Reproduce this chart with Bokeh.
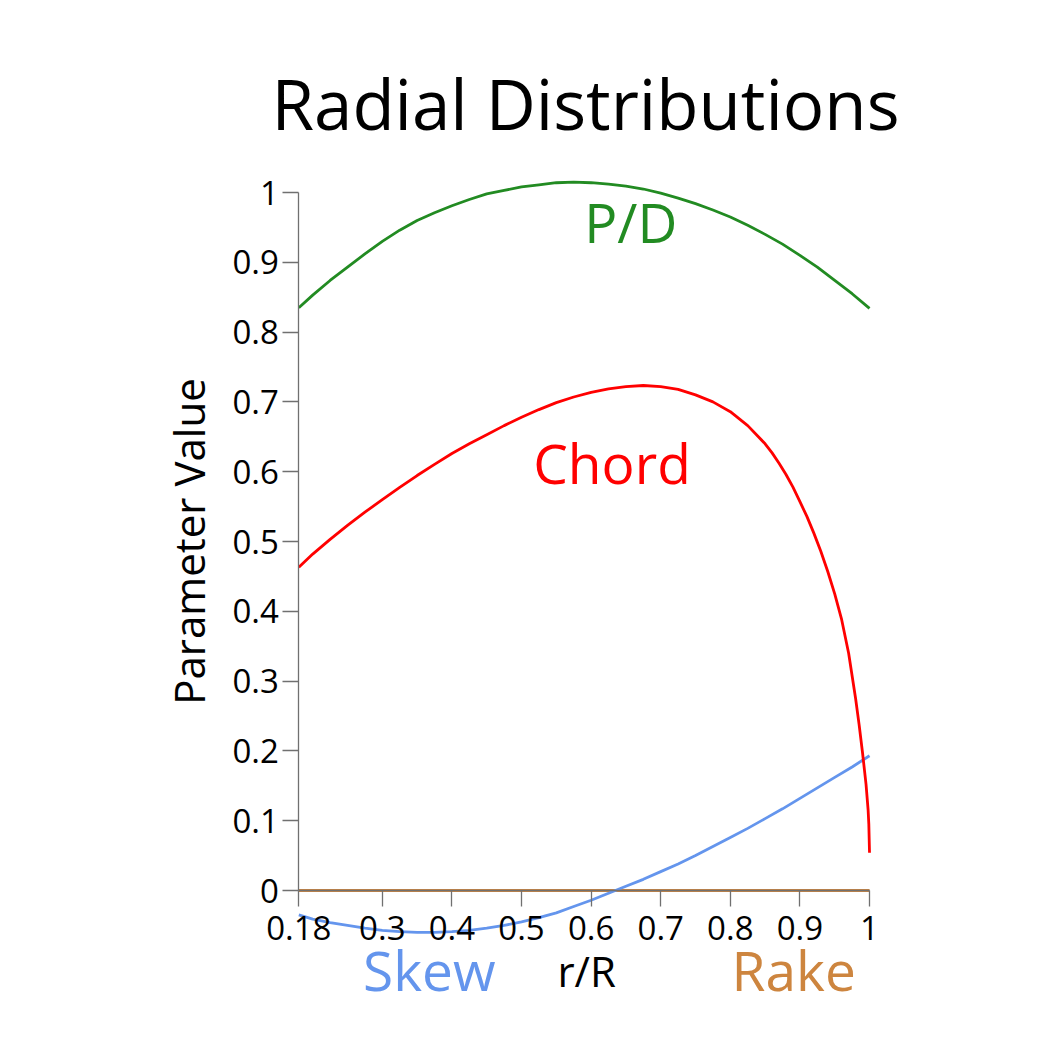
from bokeh.plotting import figure
from bokeh.models import Range1d, FixedTicker, NumeralTickFormatter, Label
from bokeh.embed import file_html
from bokeh.resources import INLINE

# ---- data ----
r_pd = [0.18, 0.2, 0.225, 0.25, 0.275, 0.3, 0.325, 0.35, 0.375, 0.4, 0.425, 0.45, 0.475, 0.5,
        0.525, 0.55, 0.575, 0.6, 0.625, 0.65, 0.675, 0.7, 0.725, 0.75, 0.775, 0.8, 0.825,
        0.85, 0.875, 0.9, 0.925, 0.95, 0.975, 1.0]
pitch = [0.835, 0.853, 0.874, 0.893, 0.912, 0.930, 0.946, 0.960, 0.971, 0.981, 0.990, 0.998, 1.003, 1.008,
         1.011, 1.014, 1.015, 1.014, 1.012, 1.009, 1.005, 0.999, 0.992, 0.984, 0.975, 0.965, 0.953,
         0.940, 0.926, 0.910, 0.893, 0.874, 0.855, 0.834]

r_chord = [0.18, 0.2, 0.225, 0.25, 0.275, 0.3, 0.325, 0.35, 0.375, 0.4, 0.425, 0.45, 0.475, 0.5,
           0.525, 0.55, 0.575, 0.6, 0.625, 0.65, 0.675, 0.7, 0.725, 0.75, 0.775, 0.8, 0.825,
           0.85, 0.86, 0.87, 0.88, 0.89, 0.9, 0.91, 0.92, 0.93, 0.94, 0.95, 0.96, 0.97, 0.98,
           0.985, 0.99, 0.995, 0.998, 0.999, 1.0]
chord = [0.463, 0.482, 0.503, 0.523, 0.542, 0.560, 0.5775, 0.5945, 0.6105, 0.626, 0.640, 0.653, 0.666, 0.678,
         0.689, 0.699, 0.707, 0.7135, 0.7185, 0.722, 0.7235, 0.722, 0.718, 0.710, 0.700, 0.686, 0.666,
         0.640, 0.627, 0.612, 0.596, 0.578, 0.557, 0.536, 0.512, 0.486, 0.457, 0.425, 0.388, 0.340, 0.275,
         0.238, 0.197, 0.152, 0.115, 0.095, 0.054]

r_skew = [0.18, 0.2, 0.225, 0.25, 0.275, 0.3, 0.325, 0.35, 0.375, 0.4, 0.425, 0.45, 0.475, 0.5,
          0.525, 0.55, 0.575, 0.6, 0.625, 0.65, 0.675, 0.7, 0.725, 0.75, 0.775, 0.8, 0.825,
          0.85, 0.875, 0.9, 0.925, 0.95, 0.975, 1.0]
skew = [-0.035, -0.041, -0.046, -0.050, -0.054, -0.057, -0.059, -0.060, -0.060, -0.059, -0.057, -0.054, -0.050, -0.045,
        -0.039, -0.032, -0.023, -0.014, -0.004, 0.006, 0.016, 0.027, 0.038, 0.050, 0.063, 0.076, 0.089,
        0.103, 0.117, 0.132, 0.147, 0.162, 0.177, 0.193]

r_rake = [0.18, 1.0]
rake = [0.0, 0.0]

x_ticks = [0.18, 0.3, 0.4, 0.5, 0.6, 0.7, 0.8, 0.9, 1.0]
y_ticks = [0, 0.1, 0.2, 0.3, 0.4, 0.5, 0.6, 0.7, 0.8, 0.9, 1.0]

series_labels = ["P/D", "Chord", "Skew", "Rake"]
label_x = [0.657, 0.630, 0.3675, 0.891]
label_y = [0.959, 0.613, -0.1133, -0.1133]
colors = ["#228B22", "#FF0000", "#6495ED", "#CD853F"]

x_title = "r/R"
x_title_pos = (0.5936, -0.1147)

FONT = "Open Sans"

# ---- layout: pixel geometry of the frame (page coordinates) ----
PX, PY = 696.0, 698.0          # pixels per data unit
X_ORIGIN_PX, Y_ORIGIN_PX = 298.3, 890.0   # page pixel of (0.18, 0)
F_LEFT, F_RIGHT, F_TOP, F_BOTTOM = 165, 1005, 164, 1010

x_range = Range1d(0.18 - (X_ORIGIN_PX - F_LEFT) / PX, 0.18 + (F_RIGHT - X_ORIGIN_PX) / PX)
y_range = Range1d(-(F_BOTTOM - Y_ORIGIN_PX) / PY, (Y_ORIGIN_PX - F_TOP) / PY)

p = figure(
    x_range=x_range, y_range=y_range,
    frame_width=F_RIGHT - F_LEFT, frame_height=F_BOTTOM - F_TOP,
    min_border_left=F_LEFT, min_border_top=F_TOP, min_border_right=0, min_border_bottom=0,
    output_backend="svg", toolbar_location=None,
    title="Radial Distributions",
)
p.background_fill_color = "white"
p.border_fill_color = "white"
p.outline_line_color = None
p.grid.visible = False

p.title.text_font = FONT
p.title.text_font_size = "69px"
p.title.text_font_style = "normal"
p.title.align = "center"
p.title.text_color = "black"
p.title.standoff = 29

# axes crossing at (0.18, 0)
for ax in (p.xaxis[0], p.yaxis[0]):
    ax.axis_line_color = "#707070"
    ax.axis_line_width = 1.3
    ax.major_tick_line_color = "#707070"
    ax.major_tick_line_width = 1.3
    ax.major_tick_out = 16
    ax.major_tick_in = 0
    ax.minor_tick_line_color = None
    ax.major_label_text_font = FONT
    ax.major_label_text_font_size = "33px"
    ax.major_label_text_color = "black"
    ax.axis_label_text_font = FONT
    ax.axis_label_text_font_size = "42px"
    ax.axis_label_text_font_style = "normal"
    ax.axis_label_text_color = "black"
    ax.formatter = NumeralTickFormatter(format="0.[00]")

xa = p.xaxis[0]
xa.fixed_location = 0
xa.bounds = (0.18, 1.0)
xa.ticker = FixedTicker(ticks=x_ticks)
xa.major_label_standoff = 9
xa.major_label_text_line_height = 1.0

ya = p.yaxis[0]
ya.fixed_location = 0.18
ya.bounds = (0, 1.0)
ya.ticker = FixedTicker(ticks=y_ticks)
ya.axis_label = "Parameter Value"
ya.major_label_standoff = 4
ya.axis_label_standoff = 12

# curves
p.line(r_rake, rake, line_color=colors[3], line_width=3)
p.line(r_skew, skew, line_color=colors[2], line_width=2.8)
p.line(r_pd, pitch, line_color=colors[0], line_width=2.8)
p.line(r_chord, chord, line_color=colors[1], line_width=2.8)

# x-axis title (drawn as a label inside the frame, under the fixed axis)
p.add_layout(Label(x=x_title_pos[0], y=x_title_pos[1], text=x_title, text_color="black",
                   text_font=FONT, text_font_size="42px", text_align="center",
                   text_baseline="alphabetic"))

for t, lx, ly, c in zip(series_labels, label_x, label_y, colors):
    p.add_layout(Label(x=lx, y=ly, text=t, text_color=c, text_font=FONT,
                       text_font_size="55px", text_align="center",
                       text_baseline="alphabetic"))

open("out.html", "w").write(file_html(p, INLINE))
